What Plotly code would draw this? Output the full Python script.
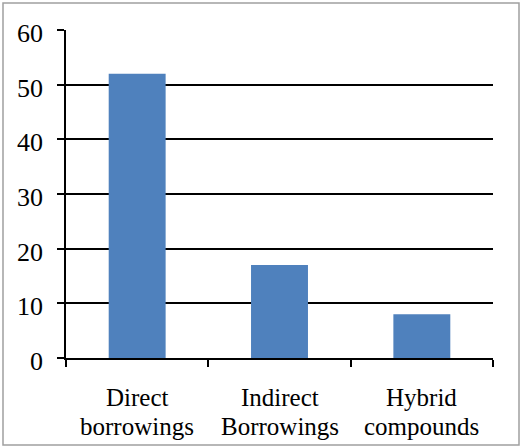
import plotly.graph_objects as go

categories = ["Direct borrowings", "Indirect Borrowings", "Hybrid compounds"]
label_line1 = ["Direct", "Indirect", "Hybrid"]
label_line2 = ["borrowings", "Borrowings", "compounds"]
values = [52, 17, 8]
y_ticks = [0, 10, 20, 30, 40, 50, 60]

W, H = 521, 448
L, R, T, B = 66, 28, 30, 90
pw, ph = W - L - R, H - T - B

fig = go.Figure(go.Bar(x=categories, y=values, marker_color="#4F81BD",
                       marker_line_width=0, hoverinfo="skip"))

fam = "Liberation Serif, Times New Roman, serif"
yfont = dict(family=fam, size=26, color="black")
xfont = dict(family=fam, size=25, color="black")

annotations = []
for v in y_ticks:
    annotations.append(dict(xref="paper", yref="y", x=0, y=v, text=str(v),
                            showarrow=False, xanchor="right", yanchor="middle",
                            xshift=-21, yshift=-3.5, font=yfont))
for c, l1, l2 in zip(categories, label_line1, label_line2):
    annotations.append(dict(xref="x", yref="paper", x=c, y=0, text=l1,
                            showarrow=False, xanchor="center", yanchor="middle",
                            yshift=-39, font=xfont))
    annotations.append(dict(xref="x", yref="paper", x=c, y=0, text=l2,
                            showarrow=False, xanchor="center", yanchor="middle",
                            yshift=-68, font=xfont))

fig.update_layout(
    width=W, height=H,
    margin=dict(l=L, r=R, t=T, b=B, pad=0),
    paper_bgcolor="white", plot_bgcolor="white",
    bargap=0.6, showlegend=False,
    xaxis=dict(showline=True, linecolor="black", linewidth=1.5,
               ticks="outside", tickson="boundaries", ticklen=7,
               tickwidth=1.5, tickcolor="black", showgrid=False,
               showticklabels=False),
    yaxis=dict(range=[0, 60], tickvals=y_ticks, showline=True, linecolor="black",
               linewidth=1.5, ticks="outside", ticklen=7, tickwidth=1.5,
               tickcolor="black", showgrid=True, gridcolor="black", gridwidth=1.5,
               zeroline=False, showticklabels=False),
    annotations=annotations,
    shapes=[dict(type="rect", xref="paper", yref="paper",
                 x0=(3 - L) / pw, x1=(519 - L) / pw,
                 y0=(H - B - 445) / ph, y1=(H - B - 3) / ph,
                 line=dict(color="#a0a0a0", width=1.5), layer="below")],
)

fig.write_html("out.html", config={"displayModeBar": False},
               post_script="document.body.style.margin='0';document.body.style.overflow='hidden';")
